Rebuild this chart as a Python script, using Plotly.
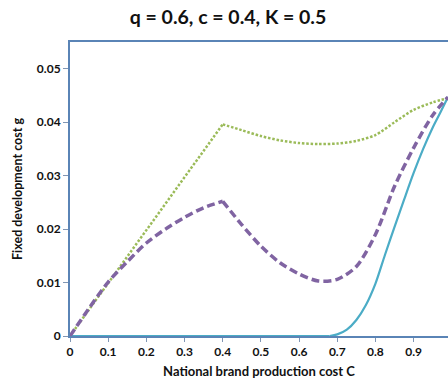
import plotly.graph_objects as go

# National brand production cost C
c_green = [0, 0.1, 0.2, 0.3, 0.4, 0.45, 0.5, 0.55, 0.6, 0.65, 0.7, 0.75, 0.8, 0.85, 0.9, 0.95, 0.99]
g_green = [0, 0.0099, 0.0198, 0.0297, 0.0396, 0.0385, 0.0374, 0.0366, 0.0361, 0.0359, 0.0360,
           0.0365, 0.0376, 0.0400, 0.0423, 0.0437, 0.0445]

c_purple = [0, 0.05, 0.1, 0.15, 0.2, 0.25, 0.3, 0.35, 0.4, 0.45, 0.5, 0.55, 0.6, 0.65, 0.7,
            0.75, 0.8, 0.85, 0.9, 0.95, 0.99]
g_purple = [0, 0.0052, 0.0101, 0.0139, 0.0174, 0.0200, 0.0222, 0.0240, 0.0252, 0.0208, 0.0168,
            0.0137, 0.0116, 0.0103, 0.0106, 0.0130, 0.0190, 0.0280, 0.0352, 0.0413, 0.0447]

c_teal = [0, 0.1, 0.2, 0.3, 0.4, 0.5, 0.6, 0.68, 0.7, 0.725, 0.75, 0.775, 0.8, 0.825, 0.85,
          0.875, 0.9, 0.925, 0.95, 0.97, 0.99]
g_teal = [0, 0, 0, 0, 0, 0, 0, 0, 0.0003, 0.0012, 0.0030, 0.0058, 0.0098, 0.0152, 0.0204,
          0.0255, 0.0305, 0.0350, 0.0390, 0.0418, 0.0447]

x_ticks = [0, 0.1, 0.2, 0.3, 0.4, 0.5, 0.6, 0.7, 0.8, 0.9]
x_labels = ["0", "0.1", "0.2", "0.3", "0.4", "0.5", "0.6", "0.7", "0.8", "0.9"]
y_ticks = [0, 0.01, 0.02, 0.03, 0.04, 0.05]
y_labels = ["0", "0.01", "0.02", "0.03", "0.04", "0.05"]

FONT = "Lato"
AXIS_COLOR = "#5A84B6"

# split index where the curves have a corner (C = 0.4) / where teal leaves zero (C = 0.68)
kg = c_green.index(0.4)
kp = c_purple.index(0.4)
kt = c_teal.index(0.68)

teal = dict(color="#4BACC6", width=2.2)
green = dict(color="#9BBB59", width=2.5, dash="2.5px,1.8px")
purple = dict(color="#8064A2", width=3.5, dash="8px,4px")

fig = go.Figure()
fig.add_trace(go.Scatter(x=c_teal[:kt + 1], y=g_teal[:kt + 1], mode="lines", line=teal))
fig.add_trace(go.Scatter(x=c_teal[kt:], y=g_teal[kt:], mode="lines",
                         line=dict(**teal, shape="spline", smoothing=0.8)))
fig.add_trace(go.Scatter(x=c_green[:kg + 1], y=g_green[:kg + 1], mode="lines", line=green))
fig.add_trace(go.Scatter(x=c_green[kg:], y=g_green[kg:], mode="lines",
                         line=dict(**green, shape="spline", smoothing=0.8)))
fig.add_trace(go.Scatter(x=c_purple[:kp + 1], y=g_purple[:kp + 1], mode="lines",
                         line=dict(**purple, shape="spline", smoothing=0.8)))
fig.add_trace(go.Scatter(x=c_purple[kp:], y=g_purple[kp:], mode="lines",
                         line=dict(**purple, shape="spline", smoothing=0.8)))

fig.update_layout(
    width=448, height=383,
    margin=dict(l=70, r=0, t=42, b=46.5),
    paper_bgcolor="white", plot_bgcolor="white",
    showlegend=False,
    font=dict(family=FONT, color="#222222"),
    title=dict(text="<b>q = 0.6, c = 0.4, K = 0.5</b>", x=0.509, xref="container",
               xanchor="center", y=1 - 17 / 383, yref="container", yanchor="middle",
               font=dict(size=19.5, family=FONT, color="#111111")),
    xaxis=dict(range=[0, 0.99], tickvals=x_ticks, ticktext=x_labels,
               showline=True, linecolor=AXIS_COLOR, linewidth=2, mirror=True,
               ticks="outside", ticklen=4, tickcolor="#8096B4", tickwidth=1,
               showgrid=False, zeroline=False, layer="below traces",
               tickfont=dict(size=12, family=FONT, color="#111111", weight="bold"),
               title=dict(text="<b>National brand production cost C</b>", standoff=8,
                          font=dict(size=13, family=FONT, color="#111111"))),
    yaxis=dict(range=[0, 0.055], tickvals=y_ticks, ticktext=y_labels,
               showline=True, linecolor=AXIS_COLOR, linewidth=2,
               ticks="outside", ticklen=5, tickcolor="#8096B4", tickwidth=1,
               showgrid=False, zeroline=False, layer="below traces",
               tickfont=dict(size=12, family=FONT, color="#111111", weight="bold"),
               title=dict(text="<b>Fixed development cost g</b>", standoff=11,
                          font=dict(size=12.5, family=FONT, color="#111111"))),
)

fig.write_html("out.html")
